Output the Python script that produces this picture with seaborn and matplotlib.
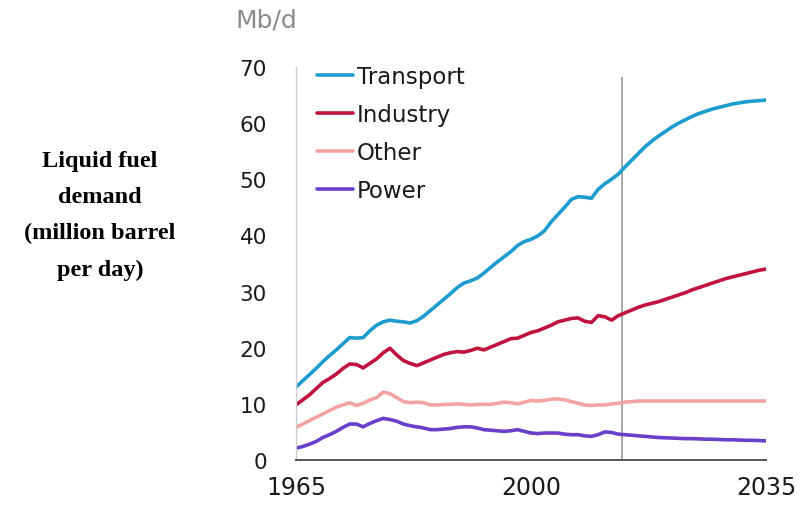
import matplotlib
matplotlib.use("Agg")
import matplotlib.pyplot as plt
import pandas as pd
import seaborn as sns

YEARS = list(range(1965, 2036))

TRANSPORT = [
    13.0, 14.1, 15.2, 16.3, 17.5, 18.6, 19.6, 20.7, 21.8, 21.7,
    21.8, 23.0, 24.0, 24.6, 24.9, 24.7, 24.6, 24.4, 24.8, 25.6,
    26.6, 27.6, 28.6, 29.6, 30.7, 31.5, 31.9, 32.4, 33.3, 34.3,
    35.3, 36.2, 37.1, 38.2, 38.9, 39.3, 39.9, 40.8, 42.4, 43.7,
    45.0, 46.4, 46.9, 46.8, 46.6, 48.2, 49.2, 50.0, 50.9, 52.2,
    53.4, 54.6, 55.8, 56.8, 57.7, 58.5, 59.3, 60.0, 60.6, 61.2,
    61.7, 62.1, 62.5, 62.8, 63.1, 63.4, 63.6, 63.8, 63.9, 64.0,
    64.1,
]
INDUSTRY = [
    9.8, 10.7, 11.6, 12.7, 13.8, 14.5, 15.3, 16.3, 17.1, 17.0,
    16.4, 17.2, 18.0, 19.1, 19.9, 18.7, 17.7, 17.2, 16.8, 17.3,
    17.8, 18.3, 18.8, 19.1, 19.3, 19.2, 19.5, 19.9, 19.6, 20.1,
    20.6, 21.1, 21.6, 21.7, 22.2, 22.7, 23.0, 23.5, 24.0, 24.6,
    24.9, 25.2, 25.3, 24.7, 24.5, 25.7, 25.5, 24.9, 25.7, 26.2,
    26.7, 27.2, 27.6, 27.9, 28.2, 28.6, 29.0, 29.4, 29.8, 30.3,
    30.7, 31.1, 31.5, 31.9, 32.3, 32.6, 32.9, 33.2, 33.5, 33.8,
    34.0,
]
OTHER = [
    5.8, 6.4, 7.0, 7.6, 8.2, 8.8, 9.4, 9.8, 10.2, 9.7,
    10.1, 10.7, 11.1, 12.1, 11.8, 11.1, 10.4, 10.2, 10.3, 10.2,
    9.8, 9.8, 9.9, 9.9, 10.0, 9.9, 9.8, 9.9, 9.9, 9.9,
    10.1, 10.3, 10.2, 10.0, 10.3, 10.6, 10.5, 10.6, 10.8, 10.9,
    10.7, 10.4, 10.1, 9.8, 9.7, 9.8, 9.8, 10.0, 10.1, 10.3,
    10.4, 10.5, 10.5, 10.5, 10.5, 10.5, 10.5, 10.5, 10.5, 10.5,
    10.5, 10.5, 10.5, 10.5, 10.5, 10.5, 10.5, 10.5, 10.5, 10.5,
    10.5,
]
POWER = [
    2.1, 2.4, 2.8, 3.3, 4.0, 4.5, 5.1, 5.8, 6.4, 6.4,
    5.9, 6.5, 7.0, 7.4, 7.2, 6.9, 6.4, 6.1, 5.9, 5.7,
    5.4, 5.4, 5.5, 5.6, 5.8, 5.9, 5.9, 5.7, 5.4, 5.3,
    5.2, 5.1, 5.2, 5.4, 5.1, 4.8, 4.7, 4.8, 4.8, 4.8,
    4.6, 4.5, 4.5, 4.3, 4.2, 4.5, 5.0, 4.9, 4.6, 4.5,
    4.4, 4.3, 4.2, 4.1, 4.0, 3.95, 3.9, 3.85, 3.8, 3.8,
    3.75, 3.7, 3.7, 3.65, 3.6, 3.6, 3.55, 3.5, 3.5, 3.45,
    3.4,
]

SECTORS = ["Transport", "Industry", "Other", "Power"]
COLORS = ["#1e9ccf", "#c0143f", "#f4a3a3", "#6a3fcb"]
PROJECTION_START = 2013.5


def main() -> None:
    df = pd.DataFrame({"year": YEARS, "Transport": TRANSPORT, "Industry": INDUSTRY,
                       "Other": OTHER, "Power": POWER})
    long = df.melt(id_vars="year", var_name="sector", value_name="mbd")

    sns.set_theme(style="white")
    plt.rcParams["font.family"] = ["DejaVu Sans"]

    fig = plt.figure(figsize=(8, 5.06), dpi=100)
    ax = fig.add_axes([0.37, 0.089, 0.5875, 0.7767])

    sns.lineplot(data=long, x="year", y="mbd", hue="sector", hue_order=SECTORS,
                 palette=COLORS, linewidth=2.6, ax=ax)
    ax.vlines(PROJECTION_START, 0, 68.3, color="#9a9a9a", linewidth=1.2, zorder=1)

    ax.set_xlim(1965, 2035)
    ax.set_ylim(0, 70)
    ax.set_xticks([1965, 2000, 2035])
    ax.set_yticks(range(0, 71, 10))
    ax.set_xlabel("")
    ax.set_ylabel("")
    ax.tick_params(axis="y", direction="in", length=5, width=1, colors="#c8c8c8",
                   labelcolor="#1a1a1a", labelsize=15.5, pad=21)
    ax.tick_params(axis="x", length=0, labelcolor="#1a1a1a", labelsize=17, pad=11)
    for side in ["top", "right"]:
        ax.spines[side].set_visible(False)
    ax.spines["left"].set_color("#cccccc")
    ax.spines["left"].set_linewidth(1.0)
    ax.spines["bottom"].set_color("#555555")
    ax.spines["bottom"].set_linewidth(1.4)

    leg = ax.legend(loc="upper left", bbox_to_anchor=(317 / 800, 1 - 66 / 506),
                    bbox_transform=fig.transFigure, frameon=False, fontsize=16.5,
                    handlelength=1.57, handletextpad=0.17, labelspacing=0.66,
                    borderpad=0, borderaxespad=0)
    for text in leg.get_texts():
        text.set_color("#1a1a1a")
    for line in leg.get_lines():
        line.set_linewidth(2.6)

    fig.text(235 / 800, 1 - 28 / 506, "Mb/d", color="#8a8a8a", fontsize=18,
             ha="left", va="baseline")
    fig.text(100 / 800, 1 - 216 / 506,
             "Liquid fuel\ndemand\n(million barrel\nper day)",
             family=["Liberation Serif", "DejaVu Serif"], fontweight="bold",
             fontsize=17.5, color="black", ha="center", va="center",
             multialignment="center", linespacing=1.93)

    fig.savefig("out.png", dpi=100)
    plt.close(fig)


if __name__ == "__main__":
    main()
